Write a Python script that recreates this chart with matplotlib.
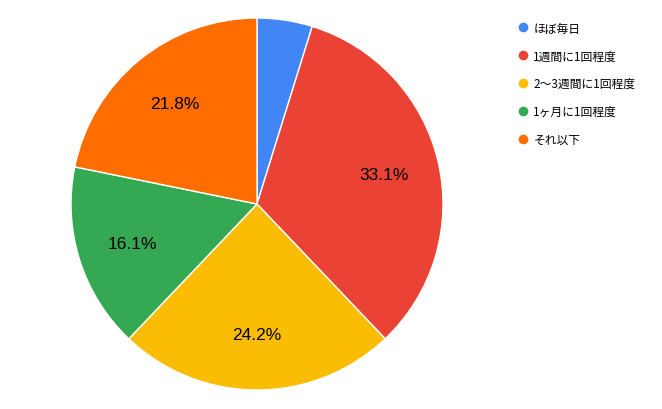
import matplotlib
matplotlib.use("Agg")
import matplotlib.pyplot as plt
from matplotlib.lines import Line2D

plt.rcParams['font.family'] = ['Noto Sans CJK JP', 'DejaVu Sans']

labels = ["ほぼ毎日", "1週間に1回程度", "2〜3週間に1回程度", "1ヶ月に1回程度", "それ以下"]
values = [4.8, 33.1, 24.2, 16.1, 21.8]
colors = ["#4285F4", "#EA4335", "#FBBC04", "#34A853", "#FF6D01"]

fig = plt.figure(figsize=(6.62, 4.10), dpi=100)
ax = fig.add_axes([71 / 662, 19 / 410, 372 / 662, 372 / 410])


def fmt(p):
    return f"{p:.1f}%" if p >= 5 else ""


wedges, texts, autotexts = ax.pie(
    values, colors=colors, startangle=90, counterclock=False,
    autopct=fmt, pctdistance=0.7,
    wedgeprops=dict(edgecolor="white", linewidth=1),
    textprops=dict(fontsize=12.5, family=['Liberation Sans', 'DejaVu Sans']),
)
ax.set_xlim(-1, 1)
ax.set_ylim(-1, 1)
ax.set_aspect("equal")

handles = [Line2D([0], [0], marker="o", color="w", markerfacecolor=c,
                  markersize=8) for c in colors]
fig.legend(handles, labels, loc="upper left", bbox_to_anchor=(505 / 662, 1 - 12 / 410),
           frameon=False, fontsize=8.5, handletextpad=0.3, labelspacing=1.25,
           handlelength=1.2)

fig.savefig("out.png", dpi=100)
